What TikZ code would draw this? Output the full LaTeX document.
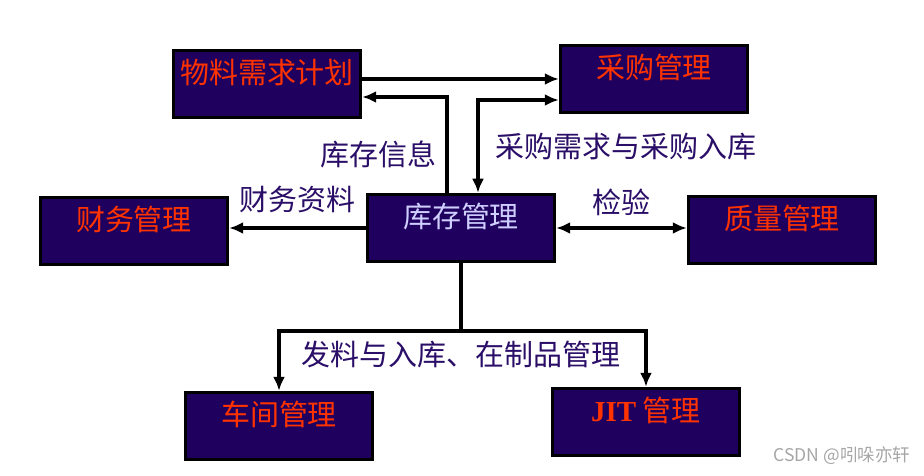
\documentclass[tikz,border=0pt]{standalone}
\usepackage{fontspec}
\newfontfamily\cjk{Noto Sans CJK SC}
\newfontfamily\jitfont{Liberation Serif}
\usetikzlibrary{arrows.meta,positioning,calc}
\definecolor{boxfill}{HTML}{20005E}
\definecolor{boxtext}{HTML}{FF3300}
\definecolor{invtext}{HTML}{CFCFFF}
\definecolor{notetext}{HTML}{2A0E68}

\begin{document}
\begin{tikzpicture}[
    x=0.02cm, y=-0.02cm,
    box/.style={rectangle, draw=black, line width=2pt, fill=boxfill, text=boxtext, minimum width=3.74cm, minimum height=1.34cm, inner ysep=0.1cm, text height=0.56cm, text depth=0.58cm, font=\cjk\fontsize{16.5}{20}\selectfont},
    note/.style={text=notetext, font=\cjk\fontsize{16.5}{20}\selectfont},
    arrow/.style={-{Latex[length=0.28cm,width=0.24cm]}, line width=2pt},
    dblarrow/.style={{Latex[length=0.28cm,width=0.24cm]}-{Latex[length=0.28cm,width=0.24cm]}, line width=2pt}
]
\useasboundingbox (0,0) rectangle (924,476);

\node (mrp) [box] at (267,84) {物料需求计划};
\node (purch) [box] at (654,79) {采购管理};
\node (inv) [box, text=invtext] at (461,228) {库存管理};
\node (fin) [box] at (134,231) {财务管理};
\node (qual) [box] at (782,230) {质量管理};
\node (shop) [box] at (279,426) {车间管理};
\node (jit) [box] at (646,422) {{\jitfont\bfseries JIT} 管理};
\coordinate (split) at ($(inv.south)+(0,68)$);

\draw [arrow] (mrp.east |- purch.west) -- (purch.west);
\draw [arrow] ([xshift=-0.28cm]inv.north) |- node[note, pos=0.2, left=0.06cm] {库存信息} ([yshift=-0.26cm]mrp.east);
\draw [dblarrow] ([yshift=-0.42cm]purch.west) -| node[note, pos=0.75, right=0.2cm] {采购需求与采购入库} ([xshift=0.34cm]inv.north);
\draw [arrow] (inv.west) -- node[note, above=0.16cm] {财务资料} (inv.west -| fin.east);
\draw [dblarrow] (inv.east) -- node[note, above=0.1cm] {检验} (inv.east -| qual.west);
\draw [line width=2pt] (inv.south) -- (split) node[note, below=0.05cm] {发料与入库、在制品管理};
\draw [arrow] (split) -| (shop.north);
\draw [arrow] (split) -| (jit.north);

\node (mark) [text=gray!70, font=\cjk\fontsize{10}{12}\selectfont] at (842,456) {CSDN @吲哚亦轩};
\end{tikzpicture}
\end{document}
